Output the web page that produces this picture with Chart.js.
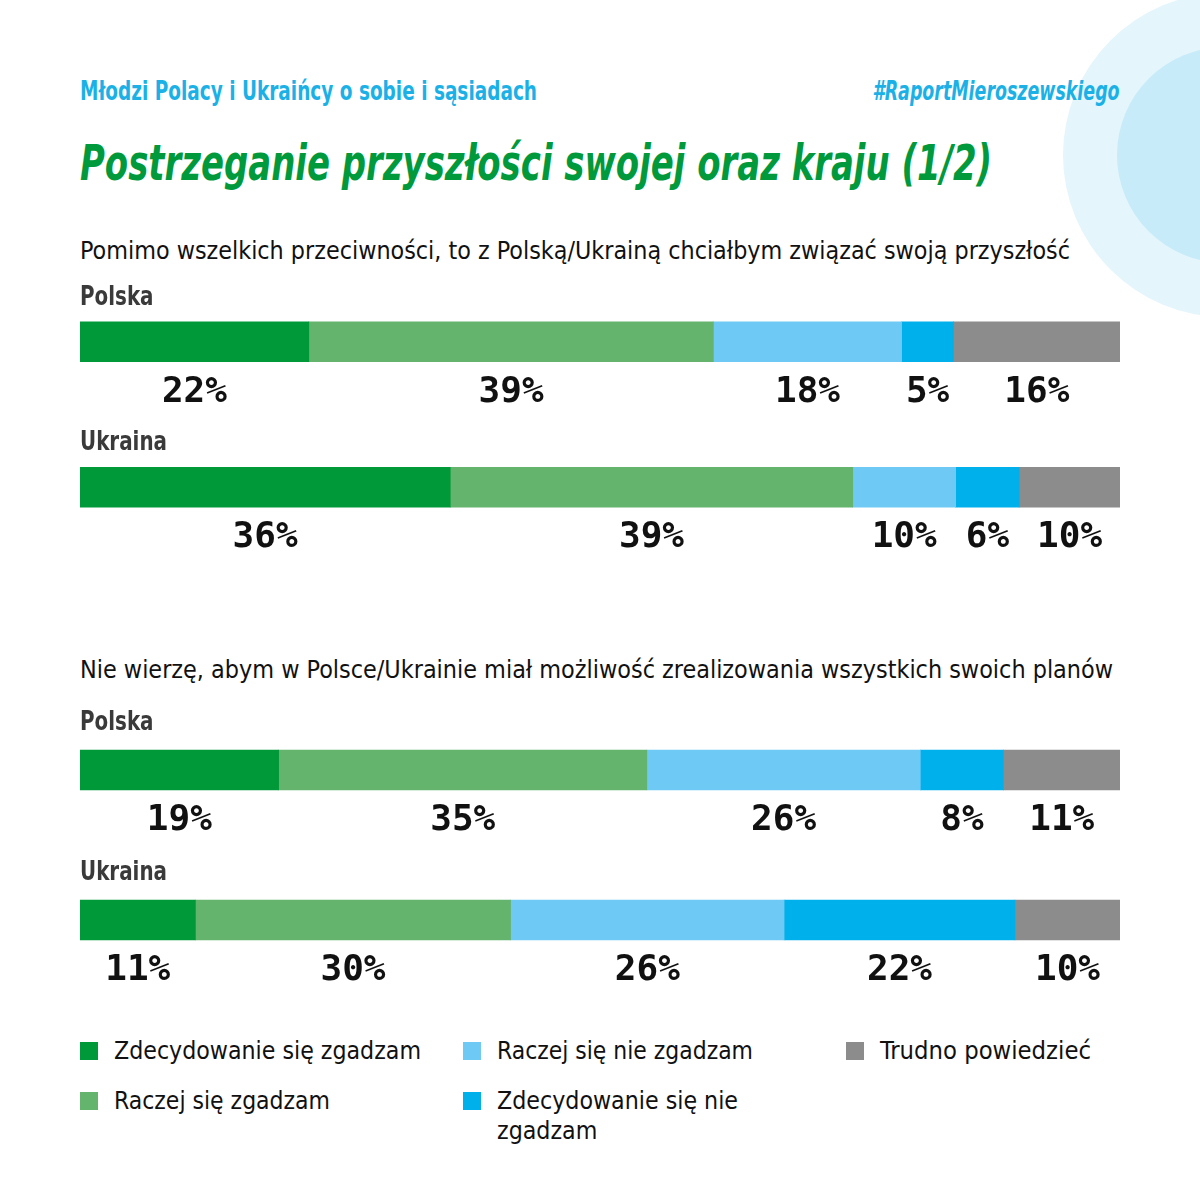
<!DOCTYPE html>
<html lang="pl">
<head>
<meta charset="utf-8">
<title>Postrzeganie przyszłości swojej oraz kraju (1/2)</title>
<script src="https://cdn.jsdelivr.net/npm/chart.js@4.4.1/dist/chart.umd.min.js"></script>
<style>
  html, body { margin: 0; padding: 0; background: #fff; }
  #page {
    position: relative; width: 1200px; height: 1200px; overflow: hidden;
    font-family: "Liberation Sans Narrow", "DejaVu Sans Condensed", sans-serif;
  }
  .circle { position: absolute; border-radius: 50%; }
  .txt { position: absolute; white-space: nowrap; line-height: 1; transform-origin: left top; }
  #header { left: 80px; top: 78px; font-size: 26px; font-weight: bold; color: #1bb1e7; }
  #tag { right: 80px; top: 78px; font-size: 26px; font-weight: bold; font-style: italic; color: #1bb1e7; transform-origin: right top; }
  #title { left: 80px; top: 138px; font-size: 50px; font-weight: bold; font-style: italic; color: #009a3c; }
  .question { left: 80px; font-size: 25px; color: #111; }
  canvas { position: absolute; left: 80px; }
  .legend-box { position: absolute; width: 18px; height: 18px; }
  .legend-text { position: absolute; font-size: 25px; line-height: 30px; color: #111; white-space: nowrap; transform-origin: left top; }
</style>
</head>
<body>
<div id="page">
  <div class="circle" style="left:1063px; top:-7px; width:324px; height:324px; background:#e4f5fc;"></div>
  <div class="circle" style="left:1117px; top:47px; width:216px; height:216px; background:#c7ebf9;"></div>

  <div id="header" class="txt" data-fit="457">Młodzi Polacy i Ukraińcy o sobie i sąsiadach</div>
  <div id="tag" class="txt" data-fit="247">#RaportMieroszewskiego</div>
  <div id="title" class="txt" data-fit="912">Postrzeganie przyszłości swojej oraz kraju (1/2)</div>

  <div class="txt question" style="top:238px;" data-fit="990">Pomimo wszelkich przeciwności, to z Polską/Ukrainą chciałbym związać swoją przyszłość</div>
  <canvas id="chartFuture" width="1040" height="291" style="top:269px;"></canvas>

  <div class="txt question" style="top:657px;" data-fit="1033">Nie wierzę, abym w Polsce/Ukrainie miał możliwość zrealizowania wszystkich swoich planów</div>
  <canvas id="chartPlans" width="1040" height="300" style="top:695px;"></canvas>

  <div id="legend"></div>
</div>

<script>
const categories = ['Polska', 'Ukraina'];
const answers = [
  'Zdecydowanie się zgadzam',
  'Raczej się zgadzam',
  'Raczej się nie zgadzam',
  'Zdecydowanie się nie zgadzam',
  'Trudno powiedzieć'
];
const answerColors = ['#00993a', '#64b46e', '#6ec9f4', '#00b0eb', '#8c8c8c'];

// "Pomimo wszelkich przeciwności..." (%)
const futurePolska = [22.0, 38.9, 18.1, 5.0, 16.0];
const futureUkraina = [35.6, 38.7, 9.9, 6.1, 9.7];

// "Nie wierzę, abym ... zrealizowania wszystkich swoich planów" (%)
const plansPolska = [19.1, 35.4, 26.3, 8.0, 11.2];
const plansUkraina = [11.1, 30.3, 26.3, 22.2, 10.1];

// category name above each bar, rounded value under each segment
const barText = {
    id: 'barText',
    afterDatasetsDraw(chart, args, opts) {
        const ctx = chart.ctx;
        ctx.save();
        ctx.textBaseline = 'alphabetic';

        ctx.font = 'bold 26px "Liberation Sans Narrow", "DejaVu Sans Condensed", sans-serif';
        ctx.fillStyle = '#3a3a3a';
        ctx.textAlign = 'left';
        chart.getDatasetMeta(0).data.forEach((bar, i) => {
            const top = bar.y - bar.height / 2;
            ctx.save();
            ctx.translate(chart.chartArea.left, top - opts.labelGap);
            ctx.scale(0.85, 1); // narrower, like the original condensed face
            ctx.fillText(chart.data.labels[i], 0, 0);
            ctx.restore();
        });

        ctx.font = 'bold 36px "DejaVu Sans Mono", monospace';
        ctx.fillStyle = '#111';
        ctx.textAlign = 'center';
        chart.data.datasets.forEach((ds, d) => {
            chart.getDatasetMeta(d).data.forEach((bar, i) => {
                const cx = (bar.x + bar.base) / 2;
                const bottom = bar.y + bar.height / 2;
                ctx.fillText(Math.round(ds.data[i]) + '%', cx, bottom + 40);
            });
        });
        ctx.restore();
    }
};

function buildChart(id, polska, ukraina, labelGap) {
    return new Chart(document.getElementById(id), {
        type: 'bar',
        data: {
            labels: categories,
            datasets: answers.map((name, i) => ({
                label: name,
                data: [polska[i], ukraina[i]],
                backgroundColor: answerColors[i],
                borderWidth: 0,
                barThickness: 40
            }))
        },
        options: {
            indexAxis: 'y',
            responsive: false,
            animation: false,
            layout: { padding: 0 },
            plugins: {
                legend: { display: false },
                tooltip: { enabled: false },
                barText: { labelGap: labelGap }
            },
            scales: {
                x: { stacked: true, min: 0, max: 100, display: false },
                y: { stacked: true, display: false }
            }
        },
        plugins: [barText]
    });
}

buildChart('chartFuture', futurePolska, futureUkraina, 17);
buildChart('chartPlans', plansPolska, plansUkraina, 20);

// legend: three columns, filled column by column
const legendCols = [80, 463, 846];
const legendRows = [1042, 1092];
const legendFit = [307, 216, 256, 241, 211];
const legend = document.getElementById('legend');
answers.forEach((name, i) => {
    const col = Math.floor(i / 2);
    const row = i % 2;
    const box = document.createElement('div');
    box.className = 'legend-box';
    box.style.left = legendCols[col] + 'px';
    box.style.top = legendRows[row] + 'px';
    box.style.background = answerColors[i];
    legend.appendChild(box);

    const text = document.createElement('div');
    text.className = 'legend-text';
    text.style.left = (legendCols[col] + 34) + 'px';
    text.style.top = (legendRows[row] - 6) + 'px';
    text.innerHTML = name === 'Zdecydowanie się nie zgadzam' ? 'Zdecydowanie się nie<br>zgadzam' : name;
    text.dataset.fit = legendFit[i];
    legend.appendChild(text);
});

document.querySelectorAll('[data-fit]').forEach(el => {
    const w = el.getBoundingClientRect().width;
    el.style.transform = 'scaleX(' + (el.dataset.fit / w) + ')';
});
</script>
</body>
</html>
